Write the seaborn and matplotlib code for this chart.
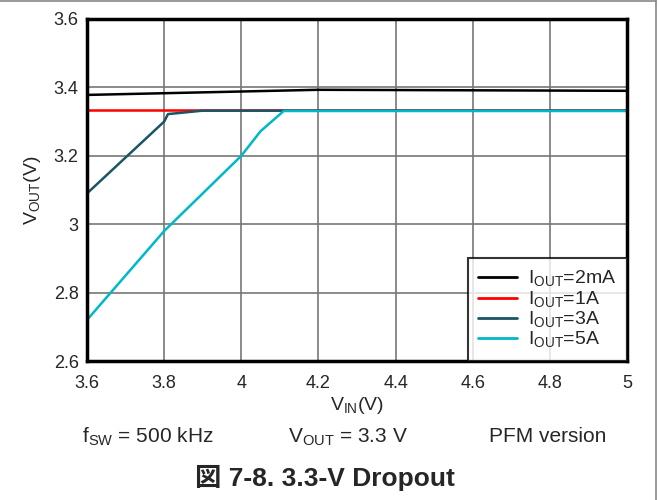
import matplotlib
matplotlib.use("Agg")
import matplotlib.pyplot as plt
import matplotlib.lines as mlines
import seaborn as sns
import pandas as pd

sns.set_style("white")
plt.rcParams['font.family'] = ['Liberation Sans', 'Noto Sans CJK JP', 'DejaVu Sans']
plt.rcParams['mathtext.fontset'] = 'custom'
plt.rcParams['mathtext.rm'] = 'Liberation Sans'

# data
vin_2ma = [3.6, 4.2, 5.0]
vout_2ma = [3.378, 3.393, 3.390]
vin_1a = [3.6, 5.0]
vout_1a = [3.334, 3.334]
vin_3a = [3.6, 3.8, 3.81, 3.9, 5.0]
vout_3a = [3.09, 3.30, 3.322, 3.332, 3.332]
vin_5a = [3.6, 3.7, 3.8, 3.9, 4.0, 4.05, 4.11, 5.0]
vout_5a = [2.72, 2.85, 2.98, 3.09, 3.20, 3.272, 3.331, 3.331]

labels = [r"I$_{\mathregular{OUT}}$=2mA", r"I$_{\mathregular{OUT}}$=1A",
          r"I$_{\mathregular{OUT}}$=3A", r"I$_{\mathregular{OUT}}$=5A"]
colors = ["#000000", "#ff0000", "#1a5566", "#00b8c8"]

xticks = [3.6, 3.8, 4.0, 4.2, 4.4, 4.6, 4.8, 5.0]
xticklabels = ["3.6", "3.8", "4", "4.2", "4.4", "4.6", "4.8", "5"]
yticks = [2.6, 2.8, 3.0, 3.2, 3.4, 3.6]
yticklabels = ["2.6", "2.8", "3", "3.2", "3.4", "3.6"]

frames = []
for lab, xs, ys in zip(labels, [vin_2ma, vin_1a, vin_3a, vin_5a],
                       [vout_2ma, vout_1a, vout_3a, vout_5a]):
    frames.append(pd.DataFrame({"VIN": xs, "VOUT": ys, "series": lab}))
df = pd.concat(frames, ignore_index=True)

fig = plt.figure(figsize=(6.6, 5.0), dpi=100)
ax = fig.add_axes([87/660, 1-361/500, 540/660, 342/500])

sns.lineplot(data=df, x="VIN", y="VOUT", hue="series", palette=dict(zip(labels, colors)),
             hue_order=labels, ax=ax, linewidth=1.8, legend=False, sort=False,
             estimator=None)

ax.set_xlim(3.6, 5.0)
ax.set_ylim(2.6, 3.6)
ax.set_xticks(xticks)
ax.set_xticklabels(xticklabels, fontsize=13)
ax.set_yticks(yticks)
ax.set_yticklabels(yticklabels, fontsize=13)
ax.tick_params(axis="x", length=0, pad=10)
ax.tick_params(axis="y", length=0, pad=6)
ax.grid(True, color="#777777", linewidth=1.2)
ax.set_axisbelow(True)
for s in ax.spines.values():
    s.set_visible(True)
    s.set_color("black")
    s.set_linewidth(2.5)

ax.set_xlabel(r"V$_{\mathregular{IN}}$(V)", fontsize=14, labelpad=2)
ax.set_ylabel(r"V$_{\mathregular{OUT}}$(V)", fontsize=14, labelpad=8)

handles = [mlines.Line2D([], [], color=c, linewidth=2) for c in colors]
leg = ax.legend(handles, labels, loc="lower right", fontsize=14, frameon=True,
                fancybox=False, borderaxespad=0, handlelength=2.0,
                handletextpad=0.55, labelspacing=0.0, borderpad=0.55)
leg.get_frame().set_edgecolor("black")
leg.get_frame().set_linewidth(1.5)

fig.text(148/660, 1-437/500, r"f$_{\mathregular{SW}}$ = 500 kHz", fontsize=15,
         ha="center", va="center")
fig.text(348/660, 1-437/500, r"V$_{\mathregular{OUT}}$ = 3.3 V", fontsize=15,
         ha="center", va="center")
fig.text(548/660, 1-437/500, "PFM version", fontsize=15, ha="center", va="center")
fig.text(325/660, 1-478/500, "図 7-8. 3.3-V Dropout", fontsize=19, fontweight="bold",
         ha="center", va="center")

# figure frame lines (top and right)
fig.add_artist(mlines.Line2D([0, 656/660], [0.999, 0.999], color="#888888",
                             linewidth=1.2, transform=fig.transFigure))
fig.add_artist(mlines.Line2D([656/660, 656/660], [0, 1], color="#888888",
                             linewidth=1.2, transform=fig.transFigure))

fig.savefig("out.png", dpi=100)
